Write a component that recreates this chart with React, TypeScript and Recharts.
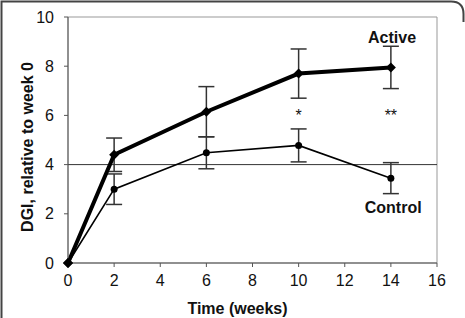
import React from 'react';
import {
  LineChart,
  Line,
  XAxis,
  YAxis,
  ErrorBar,
  ReferenceLine,
  ReferenceDot,
  ReferenceArea,
} from 'recharts';

const weeks = [0, 2, 6, 10, 14];
const activeMean = [0, 4.4, 6.15, 7.7, 7.95];
const activeErr = [0, 0.68, 1.02, 1.0, 0.86];
const controlMean = [0, 3.0, 4.48, 4.78, 3.45];
const controlErr = [0, 0.62, 0.65, 0.67, 0.63];

const xTicks = [0, 2, 4, 6, 8, 10, 12, 14, 16];
const yTicks = [0, 2, 4, 6, 8, 10];

// significance marks and series captions, in data coordinates
const notes = [
  { x: 10, y: 6.0, text: '*', size: 16, bold: false },
  { x: 14, y: 6.0, text: '**', size: 16, bold: false },
  { x: 14.05, y: 9.19, text: 'Active', size: 16, bold: true },
  { x: 14.1, y: 2.24, text: 'Control', size: 16, bold: true },
];

const rows = weeks.map((w, i) => ({
  week: w,
  active: activeMean[i],
  activeErr: activeErr[i],
  control: controlMean[i],
  controlErr: controlErr[i],
}));

const FONT = '"Liberation Sans", Arial, sans-serif';

const Diamond = (props: any) => {
  const { cx, cy } = props;
  if (cx == null || cy == null) return null;
  const s = 5;
  return <path d={`M${cx},${cy - s}L${cx + s},${cy}L${cx},${cy + s}L${cx - s},${cy}Z`} fill="#000" />;
};

const Dot = (props: any) => {
  const { cx, cy, index } = props;
  if (cx == null || cy == null) return null;
  if (index === 0) return <Diamond cx={cx} cy={cy} />;
  return <circle cx={cx} cy={cy} r={3.5} fill="#000" />;
};

const NoteLabel = (text: string, size: number, bold: boolean) => (p: any) => {
  const { viewBox } = p;
  const x = viewBox.x + (viewBox.width || 0) / 2;
  const y = viewBox.y + (viewBox.height || 0) / 2;
  return (
    <text x={x} y={y} dy="0.35em" textAnchor="middle" fontFamily={FONT} fontSize={size} fontWeight={bold ? 700 : 400} fill="#111">
      {text}
    </text>
  );
};

const XTitle = (p: any) => {
  const { viewBox } = p;
  const x = viewBox.x + viewBox.width / 2 - 15;
  const y = viewBox.y + 45;
  return (
    <text x={x} y={y} dy="0.35em" textAnchor="middle" fontFamily={FONT} fontSize={16} fontWeight={700} fill="#111">
      Time (weeks)
    </text>
  );
};

const YTitle = (p: any) => {
  const { viewBox } = p;
  const x = viewBox.x + 9;
  const y = viewBox.y + viewBox.height / 2 + 7;
  return (
    <text x={x} y={y} dy="0.35em" transform={`rotate(-90, ${x}, ${y})`} textAnchor="middle" fontFamily={FONT} fontSize={16} fontWeight={700} fill="#111">
      DGI, relative to week 0
    </text>
  );
};

export default function App() {
  return (
    <div style={{ position: 'absolute', left: 0, top: 0, width: 465, height: 318, background: '#fff' }}>
      <svg width={465} height={318} style={{ position: 'absolute', left: 0, top: 0 }}>
        <path d="M1.5,318 L1.5,1.5 L451,1.5 Q463.5,1.5 463.5,14 L463.5,22" fill="none" stroke="#444" strokeWidth={2} />
      </svg>
      <div style={{ position: 'absolute', left: 0, top: 0 }}>
        <LineChart width={465} height={318} data={rows} margin={{ top: 17, right: 28, bottom: 25, left: 18 }}>
          <ReferenceArea x1={0} x2={16} y1={0} y2={10} fill="none" stroke="#999" strokeWidth={1} ifOverflow="visible" />
          <XAxis
            dataKey="week"
            type="number"
            domain={[0, 16]}
            ticks={xTicks}
            tickSize={4}
            tickMargin={8}
            height={30}
            axisLine={{ stroke: '#555' }}
            tickLine={{ stroke: '#555' }}
            tick={{ fontFamily: FONT, fontSize: 16, fill: '#111' }}
            label={<XTitle />}
          />
          <YAxis
            type="number"
            domain={[0, 10]}
            ticks={yTicks}
            tickSize={4}
            tickMargin={10}
            width={50}
            axisLine={{ stroke: '#555' }}
            tickLine={{ stroke: '#555' }}
            tick={{ fontFamily: FONT, fontSize: 16, fill: '#111' }}
            label={<YTitle />}
          />
          <ReferenceLine y={4} stroke="#333" strokeWidth={1} />
          <Line
            dataKey="control"
            stroke="#000"
            strokeWidth={1.6}
            dot={<Dot />}
            isAnimationActive={false}
          >
            <ErrorBar dataKey="controlErr" width={8} stroke="#333" strokeWidth={1.5} direction="y" />
          </Line>
          <Line
            dataKey="active"
            stroke="#000"
            strokeWidth={4}
            dot={<Diamond />}
            isAnimationActive={false}
          >
            <ErrorBar dataKey="activeErr" width={8} stroke="#333" strokeWidth={1.5} direction="y" />
          </Line>
          {notes.map((n) => (
            <ReferenceDot
              key={n.text}
              x={n.x}
              y={n.y}
              r={0}
              fill="none"
              stroke="none"
              ifOverflow="visible"
              label={NoteLabel(n.text, n.size, n.bold)}
            />
          ))}
        </LineChart>
      </div>
    </div>
  );
}
